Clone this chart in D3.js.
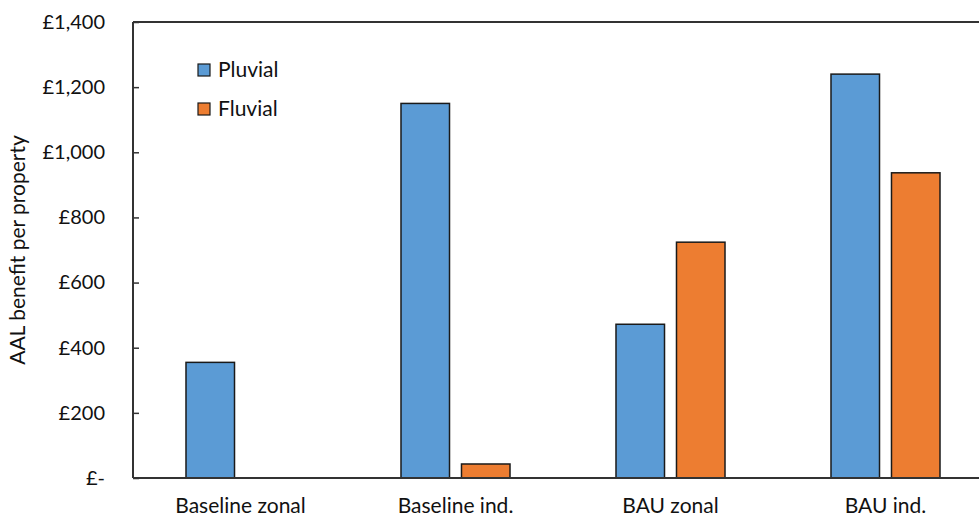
<!DOCTYPE html>
<html>
<head>
<meta charset="utf-8">
<script src="https://cdn.jsdelivr.net/npm/d3@7/dist/d3.min.js"></script>
<style>
  html, body { margin: 0; padding: 0; background: #fff; }
  svg { display: block; font-family: "Lato", "Open Sans", sans-serif; }
</style>
</head>
<body>
<svg id="chart" width="979" height="517"></svg>
<script>
// Average annual loss benefit per property, by scenario and flood source
const categories = ["Baseline zonal", "Baseline ind.", "BAU zonal", "BAU ind."];
const seriesNames = ["Pluvial", "Fluvial"];
const pluvial = [355, 1150, 472, 1240];
const fluvial = [0, 43, 724, 937];
const yTicks = [0, 200, 400, 600, 800, 1000, 1200, 1400];
const colors = ["#5B9BD5", "#ED7D31"];

const svg = d3.select("#chart");
const plotLeft = 133, plotTop = 22, plotBottom = 478, plotRight = 993;
const tickFont = 20, labelFont = 21;

const x0 = d3.scaleBand().domain(categories).range([plotLeft, plotRight]).paddingInner(0).paddingOuter(0);
const x1 = d3.scaleBand().domain(seriesNames).range([0, x0.bandwidth()])
  .paddingInner(0.198).paddingOuter(0.876);
const y = d3.scaleLinear().domain([0, 1400]).range([plotBottom, plotTop]);

const fmt = v => v === 0 ? "£-" : "£" + d3.format(",")(v);

// Bars
const rows = categories.map((c, i) => ({ cat: c, vals: [pluvial[i], fluvial[i]] }));
const groups = svg.append("g").selectAll("g").data(rows).join("g")
  .attr("transform", d => `translate(${x0(d.cat)},0)`);
groups.selectAll("rect")
  .data(d => d.vals.map((v, j) => ({ name: seriesNames[j], v, j })).filter(e => e.v > 0))
  .join("rect")
  .attr("x", e => x1(e.name))
  .attr("width", x1.bandwidth())
  .attr("y", e => y(e.v))
  .attr("height", e => y(0) - y(e.v))
  .attr("fill", e => colors[e.j])
  .attr("stroke", "#1a1a1a")
  .attr("stroke-width", 1.5);

// Y axis
const yAxis = d3.axisLeft(y).tickValues(yTicks).tickFormat(fmt).tickSize(-6).tickPadding(28);
const yg = svg.append("g").attr("transform", `translate(${plotLeft},0)`).call(yAxis);
yg.select(".domain").remove();
yg.selectAll(".tick line").attr("stroke", "#333").attr("stroke-width", 1.5);
yg.selectAll(".tick text").attr("font-size", tickFont).attr("fill", "#111")
  .attr("font-family", "Lato, sans-serif");

// Frame lines: left axis, bottom axis, top border
svg.append("line").attr("x1", plotLeft).attr("x2", plotLeft).attr("y1", plotTop).attr("y2", plotBottom)
  .attr("stroke", "#333").attr("stroke-width", 2);
svg.append("line").attr("x1", plotLeft).attr("x2", 979).attr("y1", plotBottom).attr("y2", plotBottom)
  .attr("stroke", "#333").attr("stroke-width", 2);
svg.append("line").attr("x1", plotLeft).attr("x2", 979).attr("y1", plotTop).attr("y2", plotTop)
  .attr("stroke", "#333").attr("stroke-width", 2);

// X axis labels
const xAxis = d3.axisBottom(x0).tickSize(0).tickPadding(20);
const xg = svg.append("g").attr("transform", `translate(0,${plotBottom})`).call(xAxis);
xg.select(".domain").remove();
xg.selectAll(".tick text").attr("font-size", labelFont).attr("fill", "#111")
  .attr("font-family", "Lato, sans-serif");

// Y axis title
svg.append("text")
  .attr("transform", `translate(25,250) rotate(-90)`)
  .attr("text-anchor", "middle")
  .attr("font-size", labelFont).attr("fill", "#111")
  .text("AAL benefit per property");

// Legend
const legend = svg.append("g").selectAll("g").data(seriesNames).join("g")
  .attr("transform", (d, i) => `translate(198,${64 + i * 39})`);
legend.append("rect").attr("width", 12).attr("height", 12)
  .attr("fill", (d, i) => colors[i]).attr("stroke", "#1a1a1a").attr("stroke-width", 1.2);
legend.append("text").attr("x", 20).attr("y", 6).attr("dy", "0.35em")
  .attr("font-size", labelFont).attr("fill", "#111").text(d => d);
</script>
</body>
</html>
